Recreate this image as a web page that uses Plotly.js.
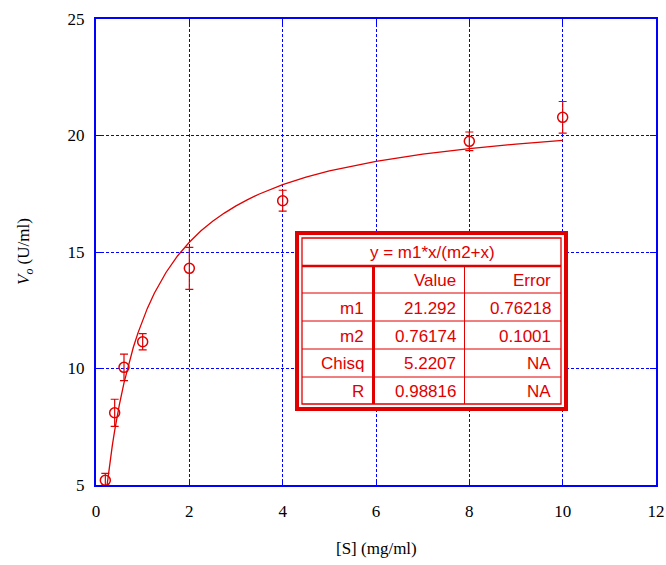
<!DOCTYPE html>
<html><head><meta charset="utf-8">
<script src="https://cdn.plot.ly/plotly-3.0.1.min.js"></script>
<style>
#chart .xtick text, #chart .ytick text, #chart .serif-title text { font-family: "Liberation Serif", "Times New Roman", serif !important; }
</style>
</head><body style="margin:0;padding:0;background:#fff">
<div id="chart" style="width:666px;height:565px"></div>
<script>
// measured data
const substrate = [0.2, 0.4, 0.6, 1.0, 2.0, 4.0, 8.0, 10.0];
const velocity  = [5.2, 8.1, 10.05, 11.15, 14.3, 17.2, 19.75, 20.78];
const velocityErr = [0.3, 0.58, 0.57, 0.35, 0.9, 0.45, 0.4, 0.68];
// fitted curve, as drawn
const fitX = [0.2, 0.25, 0.3, 0.35, 0.4, 0.45, 0.5, 0.6, 0.7, 0.8, 0.9, 1.0, 1.1, 1.25, 1.5, 1.75, 2.0, 2.25, 2.5, 2.75, 3.0, 3.25, 3.5, 4.0, 4.5, 5.0, 5.5, 6.0, 7.0, 8.0, 9.0, 10.0];
const fitY = [4.43, 5.26, 6.02, 6.70, 7.33, 7.91, 8.44, 9.38, 10.20, 10.91, 11.53, 12.09, 12.58, 13.23, 14.12, 14.84, 15.42, 15.91, 16.32, 16.67, 16.98, 17.25, 17.49, 17.89, 18.21, 18.48, 18.70, 18.89, 19.20, 19.44, 19.63, 19.79];
// fit results table
const tableTitle = "y = m1*x/(m2+x)";
const tableHeader = ["", "Value", "Error"];
const paramNames = ["m1", "m2", "Chisq", "R"];
const paramValues = ["21.292", "0.76174", "5.2207", "0.98816"];
const paramErrors = ["0.76218", "0.1001", "NA", "NA"];
const xTicks = [0, 2, 4, 6, 8, 10, 12];
const yTicks = [5, 10, 15, 20, 25];
const xTitle = "[S] (mg/ml)";
const yTitle = "<i>V<sub>o</sub></i> (U/ml)";

(function () {
  const RED = '#e00000';
  const BLUE = '#0000ff';
  const L = 96, T = 19, W = 560, H = 466;
  const toPx = x => (x - L) / W;
  const toPy = y => (T + H - y) / H;
  const SERIF = 'Times New Roman';
  const SANS = 'Liberation Sans';

  const traces = [
    {x: fitX, y: fitY, mode: 'lines', line: {color: RED, width: 1.3}, hoverinfo: 'skip', showlegend: false},
    {x: substrate, y: velocity, mode: 'markers', showlegend: false, cliponaxis: false,
     marker: {symbol: 'circle-open', size: 10, color: RED, line: {color: RED, width: 1.5}},
     error_y: {type: 'data', array: velocityErr, visible: true, color: RED, thickness: 1.2, width: 4}}
  ];

  const shapeList = [];
  const annList = [];
  const seg = (x0, y0, x1, y1, w) => shapeList.push({type: 'line', xref: 'paper', yref: 'paper',
    x0: toPx(x0), y0: toPy(y0), x1: toPx(x1), y1: toPy(y1), line: {color: RED, width: w}});
  shapeList.push({type: 'rect', xref: 'paper', yref: 'paper', x0: toPx(297), x1: toPx(566), y0: toPy(233), y1: toPy(409),
    fillcolor: '#ffffff', line: {color: RED, width: 4}});
  shapeList.push({type: 'rect', xref: 'paper', yref: 'paper', x0: toPx(302), x1: toPx(561), y0: toPy(238), y1: toPy(404),
    line: {color: RED, width: 1.3}});
  seg(302, 266, 561, 266, 2.5);
  [293, 321, 349, 377].forEach(y => seg(302, y, 561, y, 1));
  seg(373.5, 266, 373.5, 404, 3);
  seg(464.5, 266, 464.5, 404, 1);

  const sansFont = {family: SANS, size: 17, color: RED};
  annList.push({xref: 'paper', yref: 'paper', x: toPx(432), y: toPy(252), text: tableTitle, showarrow: false,
    xanchor: 'center', yanchor: 'middle', font: sansFont});
  const rowY = [280, 308, 336, 363, 391];
  const colR = [366, 458, 553];
  const rows = [tableHeader].concat(paramNames.map((n, i) => [n, paramValues[i], paramErrors[i]]));
  rows.forEach((r, i) => r.forEach((t, j) => {
    if (!t) return;
    annList.push({xref: 'paper', yref: 'paper', x: toPx(colR[j]), y: toPy(rowY[i]), text: t, showarrow: false,
      xanchor: 'right', yanchor: 'middle', font: sansFont});
  }));
  const nTable = annList.length;
  annList.push({xref: 'paper', yref: 'paper', x: toPx(376), y: toPy(548), text: xTitle, showarrow: false,
    xanchor: 'center', yanchor: 'middle', font: {family: SERIF, size: 17, color: '#000'}});
  annList.push({xref: 'paper', yref: 'paper', x: toPx(25), y: toPy(252), text: yTitle, showarrow: false,
    textangle: -90, xanchor: 'center', yanchor: 'middle', font: {family: SERIF, size: 17, color: '#000'}});

  const axisCommon = () => ({showline: true, linecolor: BLUE, linewidth: 2, mirror: 'ticks', ticks: 'inside', ticklen: 6,
    tickcolor: BLUE, tickwidth: 1, showgrid: true, gridcolor: BLUE, gridwidth: 1.2, griddash: '3px,2px', zeroline: false,
    tickfont: {family: SERIF, size: 17, color: '#000'}, fixedrange: true});

  const lay = {
    width: 666, height: 565,
    margin: {l: L, r: 666 - L - W, t: T, b: 565 - T - H},
    paper_bgcolor: '#fff', plot_bgcolor: '#fff',
    font: {family: SERIF, size: 17, color: '#000'},
    xaxis: Object.assign(axisCommon(), {range: [0, 12], tickvals: xTicks, ticklabelstandoff: 10}),
    yaxis: Object.assign(axisCommon(), {range: [5, 25], tickvals: yTicks, ticklabelstandoff: 6}),
    shapes: shapeList, annotations: annList, showlegend: false
  };
  Plotly.newPlot('chart', traces, lay, {displayModeBar: false}).then(gd => {
    const anns = gd.querySelectorAll('.annotation');
    anns.forEach((a, i) => { if (i >= nTable) a.classList.add('serif-title'); });
  });
})();
</script></body></html>
